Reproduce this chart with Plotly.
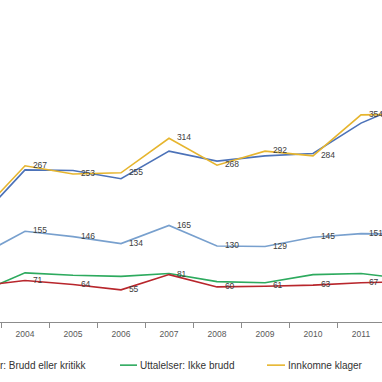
import plotly.graph_objects as go

years = ["2003", "2004", "2005", "2006", "2007", "2008", "2009", "2010", "2011", "2012"]

innkomne_klager = [180, 267, 253, 255, 314, 268, 292, 284, 354, 355]
behandlede = [172, 260, 259, 245, 292, 275, 284, 288, 340, 375]
uttalelser_totalt = [111, 155, 146, 134, 165, 130, 129, 145, 151, 150]
ikke_brudd = [49, 84, 80, 78, 83, 69, 67, 81, 83, 73]
brudd_kritikk = [61, 71, 64, 55, 81, 60, 61, 63, 67, 69]

legend_names = ["Uttalelser: Brudd eller kritikk", "Uttalelser: Ikke brudd", "Innkomne klager"]

C_YELLOW = "#E6B52E"
C_DBLUE = "#4C72B8"
C_LBLUE = "#78A0CE"
C_GREEN = "#2DAA5E"
C_RED = "#B8262C"

FONT = "Liberation Sans"
LBL = dict(family=FONT, size=8.5, color="#404040")
HIDDEN_MARKER = dict(size=11, opacity=0)


def labels(vals):
    return [""] + [str(v) for v in vals[1:-1]] + [""]


fig = go.Figure()
fig.add_trace(go.Scatter(x=years, y=ikke_brudd, mode="lines", line=dict(color=C_GREEN, width=1.6),
                         name=legend_names[1]))
fig.add_trace(go.Scatter(x=years, y=brudd_kritikk, mode="lines+markers+text", line=dict(color=C_RED, width=1.6),
                         marker=HIDDEN_MARKER,
                         text=labels(brudd_kritikk), textposition="middle right", textfont=LBL,
                         name=legend_names[0]))
fig.add_trace(go.Scatter(x=years, y=uttalelser_totalt, mode="lines+markers+text", line=dict(color=C_LBLUE, width=1.6),
                         marker=HIDDEN_MARKER,
                         text=labels(uttalelser_totalt), textposition="middle right", textfont=LBL))
fig.add_trace(go.Scatter(x=years, y=behandlede, mode="lines", line=dict(color=C_DBLUE, width=1.6)))
fig.add_trace(go.Scatter(x=years, y=innkomne_klager, mode="lines+markers+text", line=dict(color=C_YELLOW, width=1.6),
                         marker=HIDDEN_MARKER,
                         text=labels(innkomne_klager), textposition="middle right", textfont=LBL,
                         name=legend_names[2]))

# manual legend (partially cropped, as in the reference)
leg_y = -0.134
fig.add_annotation(x=88 / 382, y=leg_y, xref="paper", yref="paper", xanchor="right", yanchor="middle",
                   text=legend_names[0], showarrow=False, font=dict(family=FONT, size=10, color="#333333"))
fig.add_shape(type="line", xref="paper", yref="paper", x0=120 / 382, x1=137 / 382, y0=leg_y, y1=leg_y,
              line=dict(color=C_GREEN, width=1.6))
fig.add_annotation(x=138 / 382, y=leg_y, xref="paper", yref="paper", xanchor="left", yanchor="middle",
                   text=legend_names[1], showarrow=False, font=dict(family=FONT, size=10, color="#333333"))
fig.add_shape(type="line", xref="paper", yref="paper", x0=267 / 382, x1=285 / 382, y0=leg_y, y1=leg_y,
              line=dict(color=C_YELLOW, width=1.6))
fig.add_annotation(x=286 / 382, y=leg_y, xref="paper", yref="paper", xanchor="left", yanchor="middle",
                   text=legend_names[2], showarrow=False, font=dict(family=FONT, size=10, color="#333333"))

fig.update_layout(
    width=382, height=382,
    margin=dict(l=0, r=0, t=0, b=60, autoexpand=False),
    paper_bgcolor="white", plot_bgcolor="white",
    showlegend=False,
    xaxis=dict(type="category", range=[0.479, 8.4375], showgrid=False, zeroline=False,
               showline=True, linecolor="#8C8C8C", linewidth=1,
               ticks="outside", tickson="boundaries", ticklen=5, tickcolor="#8C8C8C",
               ticklabelstandoff=4,
               tickfont=dict(family=FONT, size=8.5, color="#595959")),
    yaxis=dict(range=[0, 550.4], showgrid=False, zeroline=False, showline=False,
               showticklabels=False, ticks=""),
)

fig.write_html("out.html", config={"displayModeBar": False},
               post_script="document.body.style.margin='0';")
